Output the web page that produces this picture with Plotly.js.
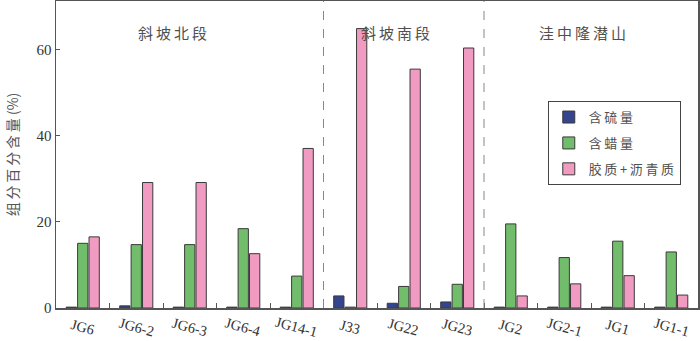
<!DOCTYPE html>
<html><head><meta charset="utf-8">
<script src="https://cdn.plot.ly/plotly-3.0.1.min.js"></script>
<style>html,body{margin:0;padding:0;background:#fff}#c{width:700px;height:341px}</style>
</head><body><div id="c"></div>
<script>
var categories = ["JG6","JG6-2","JG6-3","JG6-4","JG14-1","J33","JG22","JG23","JG2","JG2-1","JG1","JG1-1"];
var sulfur = [0.2,0.5,0.2,0.2,0.2,2.8,1.1,1.4,0.2,0.2,0.2,0.2];
var wax = [15.0,14.7,14.7,18.4,7.4,0.2,5.0,5.5,19.5,11.7,15.5,13.0];
var resin = [16.5,29.1,29.1,12.6,37.0,64.8,55.4,60.3,2.8,5.6,7.5,3.0];
var seriesNames = ["含硫量","含蜡量","胶质+沥青质"];
var groupNames = ["斜坡北段","斜坡南段","洼中隆潜山"];
var groupCenters = [1.68, 5.85, 9.35];
var dividers = [4.5, 7.5];

function spaced(s){ return s.split("").join("\u2009"); }

var colors = ["#34448f","#72bd6c","#f29bc2"];
var vals = [sulfur, wax, resin];
var traces = vals.map(function(v,i){
  return {type:"bar", x:categories, y:v, name:spaced(seriesNames[i]), legendgroup:"g"+i,
    marker:{color:colors[i], line:{color:"#3a3a3a", width:1}}};
});
var shapes = dividers.map(function(d){
  return {type:"line", xref:"x", yref:"paper", x0:d, x1:d, y0:0, y1:1,
    line:{color:"#888", width:1, dash:"dash"}};
});
var annotations = groupNames.map(function(g,i){
  return {text:spaced(g), xref:"x", yref:"paper", x:groupCenters[i], y:0.937, showarrow:false,
    font:{family:"Noto Sans CJK SC", size:15, color:"#505050"}};
});
categories.forEach(function(c){
  annotations.push({text:c, xref:"x", yref:"paper", x:c, y:-0.062, yanchor:"middle", showarrow:false,
    textangle:15, font:{family:"Liberation Serif", size:14.5, color:"#333"}});
});
var layout = {
  width:700, height:341,
  margin:{l:56, r:2, t:1, b:33},
  paper_bgcolor:"#fff", plot_bgcolor:"#fff",
  barmode:"group", bargap:0.36, bargroupgap:0.1,
  showlegend:true,
  legend:{x:0.766, y:0.674, xanchor:"left", yanchor:"top",
    bordercolor:"#444", borderwidth:1, bgcolor:"#fff",
    font:{family:"Noto Sans CJK SC", size:13, color:"#505050"},
    tracegroupgap:6, itemwidth:30},
  xaxis:{type:"category", range:[-0.5,11.5], showline:true, mirror:true, linecolor:"#555", linewidth:1.5,
    ticks:"inside", tickson:"boundaries", ticklen:5, tickcolor:"#555", showticklabels:false, fixedrange:true},
  yaxis:{range:[0,71.2], showline:true, mirror:true, linecolor:"#555", linewidth:1.5,
    ticks:"inside", ticklen:4, tickcolor:"#555", tickvals:[0,20,40,60], showgrid:false, zeroline:false,
    tickfont:{family:"Liberation Serif", size:15, color:"#333"},
    title:{text:spaced("组分百分含量")+" (%)", font:{family:"Noto Sans CJK SC", size:14, color:"#555"}, standoff:14}},
  shapes:shapes, annotations:annotations
};
Plotly.newPlot("c", traces, layout, {displayModeBar:false, staticPlot:true});
</script></body></html>
